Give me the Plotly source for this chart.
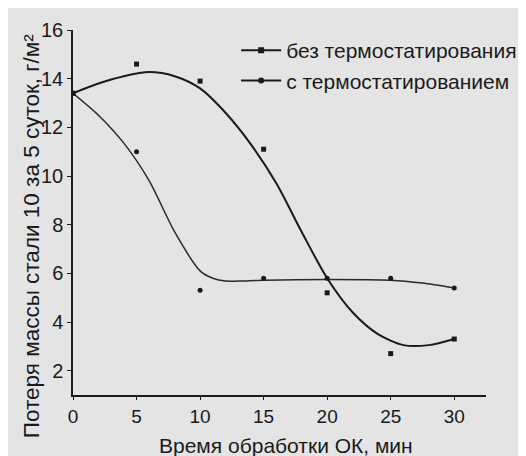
import plotly.graph_objects as go

# measured points
time_pts = [0, 5, 10, 15, 20, 25, 30]
loss_without = [13.4, 14.6, 13.9, 11.1, 5.2, 2.7, 3.3]
loss_with = [13.4, 11.0, 5.3, 5.8, 5.8, 5.8, 5.4]

# fitted curves
curve_without_x = [0, 2, 4, 6, 8, 10, 12, 14, 16, 18, 20, 22, 24, 26, 28, 30]
curve_without_y = [13.4, 13.8, 14.1, 14.27, 14.1, 13.6, 12.6, 11.3, 9.7, 7.7, 5.8, 4.4, 3.5, 3.05, 3.05, 3.3]
curve_with_x = [0, 2, 4, 6, 8, 10, 11, 12, 13, 15, 20, 25, 27.5, 30]
curve_with_y = [13.4, 12.5, 11.35, 9.8, 7.7, 6.1, 5.8, 5.68, 5.68, 5.72, 5.75, 5.72, 5.6, 5.4]

name_without = "без термостатирования"
name_with = "с термостатированием"

x_ticks = [0, 5, 10, 15, 20, 25, 30]
y_ticks = [2, 4, 6, 8, 10, 12, 14, 16]

ink = "#1a1a1a"
bg = "#e4e4e4"
font = "Liberation Sans, Arial, sans-serif"

fig = go.Figure()
fig.add_trace(go.Scatter(x=curve_without_x, y=curve_without_y, mode="lines",
                         line=dict(color=ink, width=2, shape="spline", smoothing=0.8),
                         showlegend=False, hoverinfo="skip"))
fig.add_trace(go.Scatter(x=curve_with_x, y=curve_with_y, mode="lines",
                         line=dict(color="#2a2a2a", width=1.5, shape="spline", smoothing=0.7),
                         showlegend=False, hoverinfo="skip"))
fig.add_trace(go.Scatter(x=time_pts, y=loss_without, mode="markers",
                         marker=dict(symbol="square", size=5, color=ink),
                         showlegend=False))
fig.add_trace(go.Scatter(x=time_pts, y=loss_with, mode="markers",
                         marker=dict(symbol="circle", size=5, color=ink),
                         showlegend=False))
# legend entries
fig.add_trace(go.Scatter(x=[None], y=[None], mode="lines+markers", name=name_without,
                         line=dict(color=ink, width=2),
                         marker=dict(symbol="square", size=6, color=ink)))
fig.add_trace(go.Scatter(x=[None], y=[None], mode="lines+markers", name=name_with,
                         line=dict(color=ink, width=2),
                         marker=dict(symbol="circle", size=6, color=ink)))

fig.update_layout(
    width=526, height=456,
    margin=dict(l=65, r=46, t=22, b=69),
    paper_bgcolor=bg, plot_bgcolor=bg,
    font=dict(family=font, color=ink, size=20),
    legend=dict(x=0.395, y=1.0, xanchor="left", yanchor="top",
                bgcolor="rgba(0,0,0,0)", font=dict(size=21),
                itemwidth=40, tracegroupgap=0),
    xaxis=dict(range=[0, 32.5], tickvals=x_ticks, showgrid=False, zeroline=False,
               showline=True, linecolor=ink, linewidth=1.5, ticks="outside",
               ticklen=3, tickcolor=ink, tickfont=dict(size=19)),
    yaxis=dict(range=[1, 16], tickvals=y_ticks, showgrid=False, zeroline=False,
               showline=True, linecolor=ink, linewidth=1.5, ticks="outside",
               ticklen=4, tickcolor=ink, tickfont=dict(size=20)),
    annotations=[
        dict(text="Время обработки ОК, мин", xref="paper", yref="paper",
             x=0.516, y=-0.137, xanchor="center", yanchor="middle",
             showarrow=False, font=dict(size=21)),
        dict(text="Потеря массы стали 10 за 5 суток, г/м²", xref="paper", yref="paper",
             x=-0.101, y=0.4356, xanchor="center", yanchor="middle", textangle=-90,
             showarrow=False, font=dict(size=22.5)),
    ],
)

fig.write_html("out.html")
